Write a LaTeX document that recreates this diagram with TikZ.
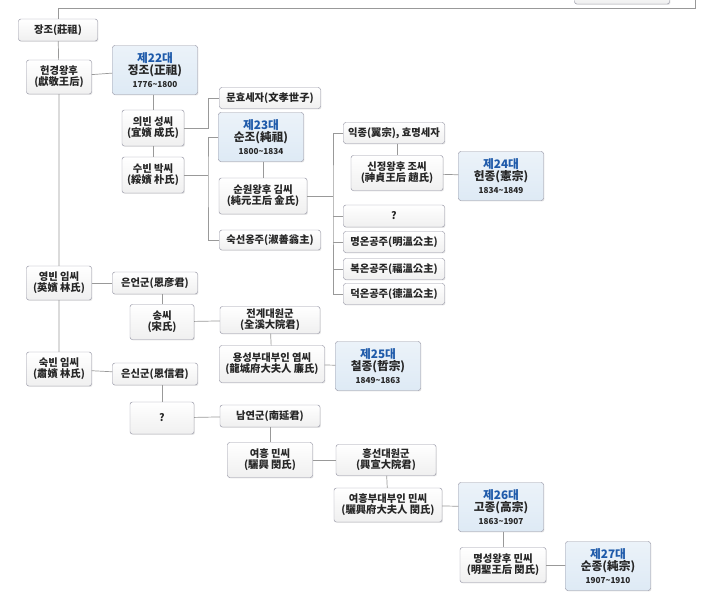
\documentclass[tikz,border=0pt]{standalone}
\usepackage{fontspec}
\setmainfont{Noto Sans CJK KR}
\usetikzlibrary{positioning, shadows}
\definecolor{kingblue}{RGB}{30,90,170}
\definecolor{kingfill}{RGB}{222,234,245}
\definecolor{edgegray}{RGB}{150,150,165}
\tikzset{
  pers/.style={draw=edgegray, rounded corners=2pt, top color=white, bottom color=gray!12,
    drop shadow={opacity=.2, shadow xshift=.8pt, shadow yshift=-.8pt},
    align=center, inner sep=1pt, text=black!85, font=\fontsize{8.8}{9.6}\selectfont\bfseries},
  king/.style={pers, top color=kingfill!60, bottom color=kingfill, font=\fontsize{10}{11}\selectfont\bfseries,
    minimum width=2.55cm, minimum height=1.47cm},
  link/.style={draw=gray!80, line width=.6pt}
}
\newcommand{\era}[1]{\textcolor{kingblue}{#1}}
\newcommand{\yrs}[1]{{\fontsize{7}{8}\selectfont #1}}
\begin{document}
\begin{tikzpicture}[x=0.03cm, y=-0.03cm]
  \useasboundingbox (0,0) rectangle (727,605);
  % partial box at top
  \begin{scope}
    \clip (0,0) rectangle (727,605);
    \node[pers, minimum width=2.85cm, minimum height=.6cm] (topbox) at (622,-6) {};
  \end{scope}

  % first column
  \node[pers, minimum width=2.37cm, minimum height=.66cm] (jangjo) at (58,30) {장조(莊祖)};
  \node[pers, minimum width=1.95cm, minimum height=1.02cm] (heongyeong) at (59,77) {헌경왕후\\(獻敬王后)};
  \node[pers, minimum width=1.95cm, minimum height=1.02cm] (yeongbin) at (59,283) {영빈 임씨\\(英嬪 林氏)};
  \node[pers, minimum width=1.95cm, minimum height=1.02cm] (sukbin) at (59,369) {숙빈 임씨\\(肅嬪 林氏)};

  % second column
  \node[king] (jeongjo) at (155,70) {\era{제22대}\\정조(正祖)\\\yrs{1776\textasciitilde1800}};
  \node[pers, minimum width=1.86cm, minimum height=1.08cm] (uibin) at (153,128) {의빈 성씨\\(宜嬪 成氏)};
  \node[pers, minimum width=1.86cm, minimum height=1.08cm] (subin) at (153,175) {수빈 박씨\\(綏嬪 朴氏)};
  \node[pers, minimum width=2.55cm, minimum height=.66cm] (euneon) at (155,283) {은언군(恩彦君)};
  \node[pers, minimum width=1.92cm, minimum height=1.05cm] (songssi) at (162,322) {송씨\\(宋氏)};
  \node[pers, minimum width=2.55cm, minimum height=.66cm] (eunsin) at (155,374) {은신군(恩信君)};
  \node[pers, minimum width=1.92cm, minimum height=.96cm] (unknownb) at (162,418) {?};

  % third column
  \node[pers, minimum width=3.03cm, minimum height=.63cm] (munhyo) at (270,98) {문효세자(文孝世子)};
  \node[king] (sunjo) at (261,137) {\era{제23대}\\순조(純祖)\\\yrs{1800\textasciitilde1834}};
  \node[pers, minimum width=2.64cm, minimum height=1.08cm] (sunwon) at (263,196) {순원왕후 김씨\\(純元王后 金氏)};
  \node[pers, minimum width=3.03cm, minimum height=.6cm] (sukseon) at (270,240) {숙선옹주(淑善翁主)};
  \node[pers, minimum width=3cm, minimum height=.81cm] (jeongye) at (270,320) {전계대원군\\(全溪大院君)};
  \node[pers, minimum width=3.15cm, minimum height=1.11cm] (yongseong) at (272,364) {용성부대부인 염씨\\(龍城府大夫人 廉氏)};
  \node[pers, minimum width=3cm, minimum height=.66cm] (namyeon) at (270,416) {남연군(南延君)};
  \node[pers, minimum width=2.55cm, minimum height=1.05cm] (yeoheung) at (270,460) {여흥 민씨\\(驪興 閔氏)};

  % fourth column
  \node[pers, minimum width=3.03cm, minimum height=.63cm] (ikjong) at (394,133) {익종(翼宗), 효명세자};
  \node[pers, minimum width=2.76cm, minimum height=1.05cm] (sinjeong) at (397,173) {신정왕후 조씨\\(神貞王后 趙氏)};
  \node[pers, minimum width=3.03cm, minimum height=.66cm] (unknowna) at (394,216) {?};
  \node[pers, minimum width=3.03cm, minimum height=.63cm] (myeongon) at (394,242) {명온공주(明溫公主)};
  \node[pers, minimum width=3.03cm, minimum height=.63cm] (bogon) at (394,269) {복온공주(福溫公主)};
  \node[pers, minimum width=3.03cm, minimum height=.63cm] (deogon) at (394,294) {덕온공주(德溫公主)};
  \node[king] (cheoljong) at (378,366) {\era{제25대}\\철종(哲宗)\\\yrs{1849\textasciitilde1863}};
  \node[pers, minimum width=3cm, minimum height=.93cm] (heungseon) at (386,460) {흥선대원군\\(興宣大院君)};
  \node[pers, minimum width=3.24cm, minimum height=1.02cm] (yeoheungbu) at (388,505) {여흥부대부인 민씨\\(驪興府大夫人 閔氏)};

  % right columns
  \node[king] (heonjong) at (501,176) {\era{제24대}\\헌종(憲宗)\\\yrs{1834\textasciitilde1849}};
  \node[king] (gojong) at (501,507) {\era{제26대}\\고종(高宗)\\\yrs{1863\textasciitilde1907}};
  \node[pers, minimum width=2.58cm, minimum height=1.05cm] (myeongseong) at (503,565) {명성왕후 민씨\\(明聖王后 閔氏)};
  \node[king] (sunjong) at (608,566) {\era{제27대}\\순종(純宗)\\\yrs{1907\textasciitilde1910}};

  % bus points
  \coordinate (topturn) at (695,8);
  \coordinate (busa) at (208,128);
  \coordinate (busb) at (208,175);
  \coordinate (busc) at (333,196);

  % connectors
  \draw[link] (jangjo.north) |- (topturn) -- (topturn |- 0,0);
  \draw[link] (jangjo) -- (heongyeong) -- (yeongbin) -- (sukbin);
  \draw[link] (heongyeong) -- (jeongjo);
  \draw[link] (jeongjo.south -| uibin) -- (uibin) -- (subin);
  \draw[link] (uibin.east) -- (busa) |- (munhyo.west);
  \draw[link] (subin.east) -- (busb);
  \draw[link] (sunjo.west) -| (busb) |- (sukseon.west);
  \draw[link] (sunjo.south -| sunwon) -- (sunwon.north);
  \draw[link] (sunwon.east) -- (busc);
  \draw[link] (ikjong.west) -| (busc) |- (deogon.west);
  \draw[link] (busc |- unknowna) -- (unknowna.west);
  \draw[link] (busc |- myeongon) -- (myeongon.west);
  \draw[link] (busc |- bogon) -- (bogon.west);
  \draw[link] (ikjong.south -| sinjeong.north) -- (sinjeong.north);
  \draw[link] (sinjeong) -- (heonjong);
  \draw[link] (yeongbin) -- (euneon);
  \draw[link] (euneon.south -| songssi) -- (songssi.north);
  \draw[link] (songssi) -- (jeongye);
  \draw[link] (jeongye) -- (yongseong);
  \draw[link] (yongseong) -- (cheoljong);
  \draw[link] (sukbin) -- (eunsin);
  \draw[link] (eunsin.south -| unknownb) -- (unknownb.north);
  \draw[link] (unknownb) -- (namyeon);
  \draw[link] (namyeon) -- (yeoheung);
  \draw[link] (yeoheung) -- (heungseon);
  \draw[link] (heungseon) -- (yeoheungbu);
  \draw[link] (yeoheungbu) -- (gojong);
  \draw[link] (gojong.south -| myeongseong) -- (myeongseong.north);
  \draw[link] (myeongseong) -- (sunjong);
\end{tikzpicture}
\end{document}
